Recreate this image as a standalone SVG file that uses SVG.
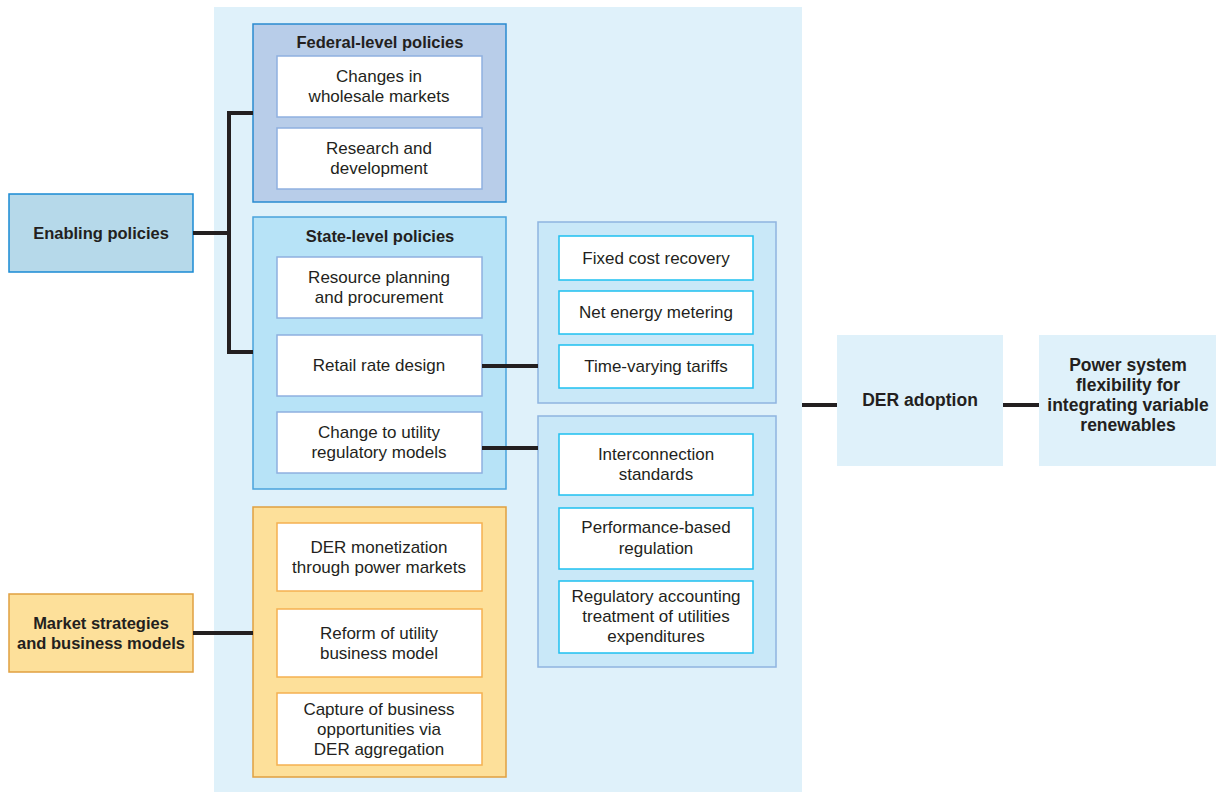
<svg xmlns="http://www.w3.org/2000/svg" width="1216" height="792" viewBox="0 0 1216 792">
<style>
text{font-family:"Liberation Sans",Arial,sans-serif;font-size:17px;fill:#231f20;text-anchor:middle}
.b{font-weight:bold;font-size:16.5px}
.b2{font-weight:bold;font-size:17.5px}
.inB{fill:#fff;stroke:#8fb0e0;stroke-width:1.5}
.inC{fill:#fff;stroke:#1ec0f0;stroke-width:1.5}
.inO{fill:#fff;stroke:#f5b050;stroke-width:1.5}
.con{stroke:#231f20;stroke-width:4;fill:none}
</style>
<rect x="214" y="7" width="588" height="785" fill="#dff1fa"/>
<g id="enabling">
<rect x="9" y="194" width="184" height="78" fill="#b6d9ea" stroke="#1a8ad4" stroke-width="1.5"/>
<text class="b" x="101" y="239">Enabling policies</text>
</g>
<g id="market">
<rect x="9" y="594" width="184" height="78" fill="#fde09a" stroke="#e0a040" stroke-width="1.5"/>
<text class="b" x="101" y="629">Market strategies</text>
<text class="b" x="101" y="649">and business models</text>
</g>
<g id="federal">
<rect x="253" y="24" width="253" height="178" fill="#b8cde9" stroke="#2a8ad0" stroke-width="1.5"/>
<text class="b" x="380" y="48">Federal-level policies</text>
<rect class="inB" x="277" y="56" width="205" height="61"/>
<text x="379" y="82">Changes in</text>
<text x="379" y="102">wholesale markets</text>
<rect class="inB" x="277" y="128" width="205" height="61"/>
<text x="379" y="154">Research and</text>
<text x="379" y="174">development</text>
</g>
<g id="state">
<rect x="253" y="217" width="253" height="272" fill="#b7e3f7" stroke="#4aa3dc" stroke-width="1.5"/>
<text class="b" x="380" y="242">State-level policies</text>
<rect class="inB" x="277" y="257" width="205" height="61"/>
<text x="379" y="283">Resource planning</text>
<text x="379" y="303">and procurement</text>
<rect class="inB" x="277" y="335" width="205" height="61"/>
<text x="379" y="371">Retail rate design</text>
<rect class="inB" x="277" y="412" width="205" height="61"/>
<text x="379" y="438">Change to utility</text>
<text x="379" y="458">regulatory models</text>
</g>
<g id="business">
<rect x="253" y="507" width="253" height="270" fill="#fde09a" stroke="#e0a040" stroke-width="1.5"/>
<rect class="inO" x="277" y="523" width="205" height="68"/>
<text x="379" y="553">DER monetization</text>
<text x="379" y="573">through power markets</text>
<rect class="inO" x="277" y="609" width="205" height="68"/>
<text x="379" y="639">Reform of utility</text>
<text x="379" y="659">business model</text>
<rect class="inO" x="277" y="693" width="205" height="72"/>
<text x="379" y="715">Capture of business</text>
<text x="379" y="735">opportunities via</text>
<text x="379" y="755">DER aggregation</text>
</g>
<g id="rate">
<rect x="538" y="222" width="238" height="181" fill="#c9e8f8" stroke="#8fb4e0" stroke-width="1.5"/>
<rect class="inC" x="559" y="236" width="194" height="44"/>
<text x="656" y="264">Fixed cost recovery</text>
<rect class="inC" x="559" y="291" width="194" height="43"/>
<text x="656" y="318">Net energy metering</text>
<rect class="inC" x="559" y="345" width="194" height="43"/>
<text x="656" y="372">Time-varying tariffs</text>
</g>
<g id="regulatory">
<rect x="538" y="416" width="238" height="251" fill="#c9e8f8" stroke="#8fb4e0" stroke-width="1.5"/>
<rect class="inC" x="559" y="434" width="194" height="61"/>
<text x="656" y="460">Interconnection</text>
<text x="656" y="480">standards</text>
<rect class="inC" x="559" y="508" width="194" height="61"/>
<text x="656" y="533">Performance-based</text>
<text x="656" y="554">regulation</text>
<rect class="inC" x="559" y="581" width="194" height="72"/>
<text x="656" y="602">Regulatory accounting</text>
<text x="656" y="622">treatment of utilities</text>
<text x="656" y="642">expenditures</text>
</g>
<g id="der">
<rect x="837" y="335" width="166" height="131" fill="#dff1fa"/>
<text class="b2" x="920" y="406">DER adoption</text>
</g>
<g id="flex">
<rect x="1039" y="335" width="177" height="131" fill="#dff1fa"/>
<text class="b2" x="1128" y="371">Power system</text>
<text class="b2" x="1128" y="391">flexibility for</text>
<text class="b2" x="1128" y="411">integrating variable</text>
<text class="b2" x="1128" y="431">renewables</text>
</g>
<g id="connectors">
<path class="con" d="M193,233 H229 M253,113 H229 V352 H253"/>
<path class="con" d="M193,633 H253"/>
<path class="con" d="M482,366 H538"/>
<path class="con" d="M482,448 H538"/>
<path class="con" d="M802,405 H837"/>
<path class="con" d="M1003,405 H1039"/>
</g>
</svg>
